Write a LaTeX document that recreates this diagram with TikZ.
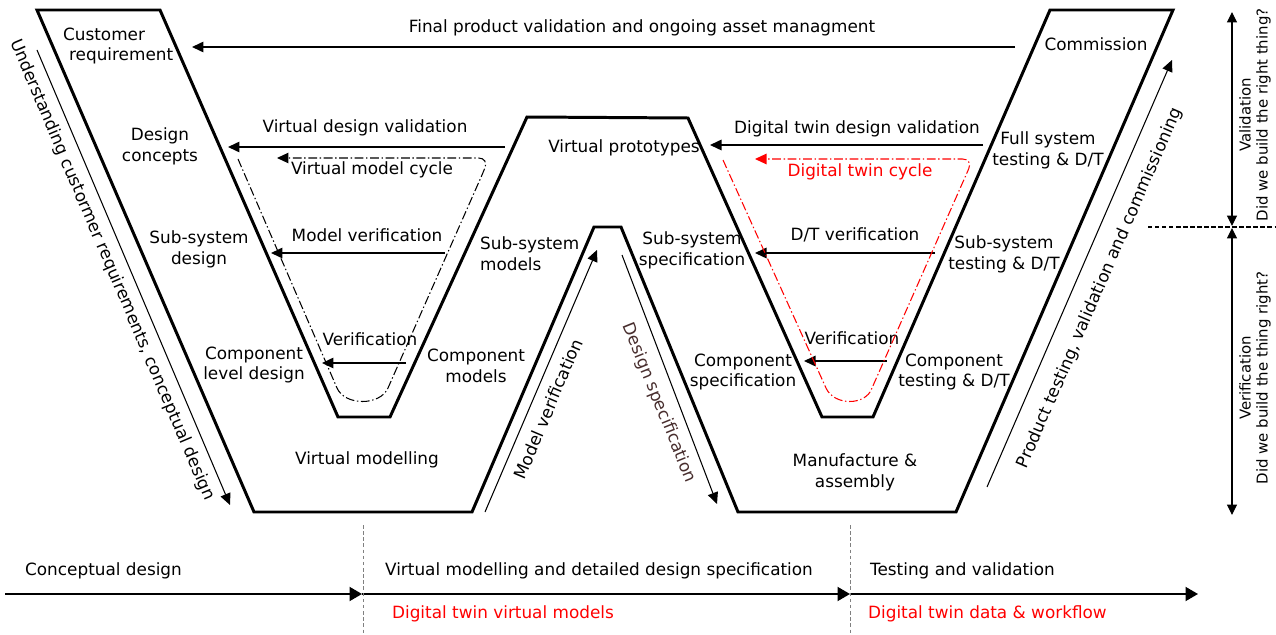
\documentclass[tikz,border=0pt]{standalone}
\usepackage{fontspec}
\setmainfont{DejaVu Sans}
\usetikzlibrary{arrows.meta, positioning}
\definecolor{dtred}{RGB}{255,0,0}
\definecolor{specbrown}{RGB}{72,46,46}
\tikzstyle{every node}=[font=\fontsize{9.6}{11.9}\selectfont, inner sep=1pt]
\tikzstyle{lbl}=[align=center]
\tikzstyle{vee}=[line width=1.7pt, line join=miter]
\tikzstyle{flow}=[line width=0.85pt, -{Triangle[length=2.3mm,width=2.1mm]}]
\tikzstyle{side}=[line width=0.6pt, -{Triangle[length=2.3mm,width=2.1mm]}]
\tikzstyle{loopline}=[line width=0.6pt, dash pattern=on 5pt off 1.5pt on 0.8pt off 1.5pt, -{Triangle[length=2.3mm,width=2.1mm]}]
\tikzstyle{sidetext}=[align=center, font=\fontsize{8.5}{9.8}\selectfont, rotate=90]
\tikzstyle{phase}=[line width=1.1pt, -{Triangle[length=2.5mm,width=2.8mm]}]
\newcommand{\dt}{D/T}

\begin{document}
\begin{tikzpicture}[x=0.02cm,y=-0.02cm,>=Triangle]
    \useasboundingbox (0,0) rectangle (1276,635);

    % the W outline
    \draw[vee] (37,10) -- (160,10) -- (338,417) -- (390,417) -- (527,117) -- (688,118)
        -- (822,417) -- (873,417) -- (1050,10) -- (1173,10) -- (956,512) -- (738,512)
        -- (621,227) -- (594,227) -- (472,512) -- (254,512) -- cycle;

    % stage labels
    \node[align=left, anchor=west] (cr) at (61,46) {Customer\\\hspace*{0.12cm}requirement};
    \node[lbl] (dc) at (160,146) {Design\\concepts};
    \node[lbl] (ssd) at (199,249) {Sub-system\\design};
    \node[lbl] (cld) at (254,365) {Component\\level design};
    \node (vm) at (367,460) {Virtual modelling};
    \node[lbl] (cm) at (476,366) {Component\\models};
    \node[align=left, anchor=west] (ssm) at (478,254) {Sub-system\\models};
    \node (vp) at (624,148) {Virtual prototypes};
    \node[lbl] (sss) at (692,250) {Sub-system\\specification};
    \node[lbl] (cs) at (743,372) {Component\\specification};
    \node[lbl] (ma) at (855,472) {Manufacture \&\\assembly};
    \node[lbl] (ct) at (954,372) {Component\\testing \& \dt};
    \node[lbl] (sst) at (1004,254) {Sub-system\\testing \& \dt};
    \node[lbl] (fst) at (1048,150) {Full system\\testing \& \dt};
    \node (com) at (1096,44) {Commission};

    % feedback arrows
    \node (fpv) at (642,28) {Final product validation and ongoing asset managment};
    \coordinate (fpvS) at (1015,47);
    \coordinate (fpvE) at (192,47);
    \draw[flow] (fpvS) -- (fpvE);

    \node (vdv) at (365,128) {Virtual design validation};
    \coordinate (vdvS) at (505,147);
    \coordinate (vdvE) at (228,147);
    \draw[flow] (vdvS) -- (vdvE);

    \node (mv) at (367,235) {Model verification};
    \coordinate (mvS) at (445,253);
    \coordinate (mvE) at (271,253);
    \draw[flow] (mvS) -- (mvE);

    \node (ver1) at (370,339) {Verification};
    \coordinate (ver1S) at (406,363);
    \coordinate (ver1E) at (322,363);
    \draw[flow] (ver1S) -- (ver1E);

    \node (dtdv) at (857,129) {Digital twin design validation};
    \coordinate (dtdvS) at (983,145);
    \coordinate (dtdvE) at (710,145);
    \draw[flow] (dtdvS) -- (dtdvE);

    \node (dtv) at (855,235) {\dt{} verification};
    \coordinate (dtvS) at (935,253);
    \coordinate (dtvE) at (755,253);
    \draw[flow] (dtvS) -- (dtvE);

    \node (ver2) at (852,338) {Verification};
    \coordinate (ver2S) at (887,361);
    \coordinate (ver2E) at (804,361);
    \draw[flow] (ver2S) -- (ver2E);

    % cycles
    \node (vmc) at (372,170) {Virtual model cycle};
    \draw[loopline] (238,159) -- (337,388) .. controls (345,406) and (380,406) .. (388,388)
        -- (482,175) [rounded corners=6pt] -- (489,158) -- (277,158);
    \node[text=dtred] (dtc) at (860,172) {Digital twin cycle};
    \draw[loopline, draw=dtred, fill=none, -{Triangle[length=2.3mm,width=2.1mm,fill=dtred]}]
        (723,160) -- (826,388) .. controls (834,406) and (866,406) .. (872,388)
        -- (966,175) [rounded corners=6pt] -- (973,159) -- (755,159);

    % side arrows along the W
    \coordinate (ucS) at (37,50);
    \coordinate (ucE) at (230,505);
    \draw[side] (ucS) -- (ucE);
    \node[rotate=-67] (uc) at (112,270) {Understanding custormer requirements, conceptual design};

    \coordinate (mvrS) at (485,512);
    \coordinate (mvrE) at (597,250);
    \draw[side] (mvrS) -- (mvrE);
    \node[rotate=67] (mvr) at (548,409) {Model verification};

    \coordinate (dsS) at (622,255);
    \coordinate (dsE) at (717,504);
    \draw[side] (dsS) -- (dsE);
    \node[rotate=-68, text=specbrown] (ds) at (659,403) {Design specification};

    \coordinate (ptS) at (987,487);
    \coordinate (ptE) at (1172,60);
    \draw[side] (ptS) -- (ptE);
    \node[rotate=66.6] (pt) at (1100,288) {Product testing, validation and commissioning};

    % validation / verification scale
    \coordinate (valT) at (1232,12);
    \coordinate (valB) at (1232,226);
    \coordinate (verT) at (1232,228);
    \coordinate (verB) at (1232,515);
    \draw[side, {Triangle[length=2.1mm,width=2mm]}-{Triangle[length=2.1mm,width=2mm]}] (valT) -- (valB);
    \draw[side, {Triangle[length=2.1mm,width=2mm]}-{Triangle[length=2.1mm,width=2mm]}] (verT) -- (verB);
    \coordinate (splitL) at (1148,227);
    \coordinate (splitR) at (1276,227);
    \draw[line width=0.6pt, dash pattern=on 2.5pt off 1.5pt] (splitL) -- (splitR);
    \node[sidetext] (valtxt) at (1255,115) {Validation\\Did we build the right thing?};
    \node[sidetext] (vertxt) at (1255,378) {Verification\\Did we build the thing right?};

    % timeline
    \coordinate (tl0) at (5,594);
    \coordinate (tl1) at (362,594);
    \coordinate (tl2) at (850,594);
    \coordinate (tl3) at (1198,594);
    \draw[phase] (tl0) -- (tl1);
    \draw[phase] (tl1) -- (tl2);
    \draw[phase] (tl2) -- (tl3);
    \coordinate (d1T) at (363,525);
    \coordinate (d1B) at (363,635);
    \coordinate (d2T) at (850,525);
    \coordinate (d2B) at (850,635);
    \draw[line width=0.4pt, dash pattern=on 2pt off 1.5pt, gray] (d1T) -- (d1B);
    \draw[line width=0.4pt, dash pattern=on 2pt off 1.5pt, gray] (d2T) -- (d2B);
    \node[anchor=west] (ph1) at (23,571) {Conceptual design};
    \node[anchor=west] (ph2) at (383,571) {Virtual modelling and detailed design specification};
    \node[anchor=west] (ph3) at (868,571) {Testing and validation};
    \node[anchor=west, text=dtred] (dt1) at (390,614) {Digital twin virtual models};
    \node[anchor=west, text=dtred] (dt2) at (866,614) {Digital twin data \& workflow};
\end{tikzpicture}
\end{document}
